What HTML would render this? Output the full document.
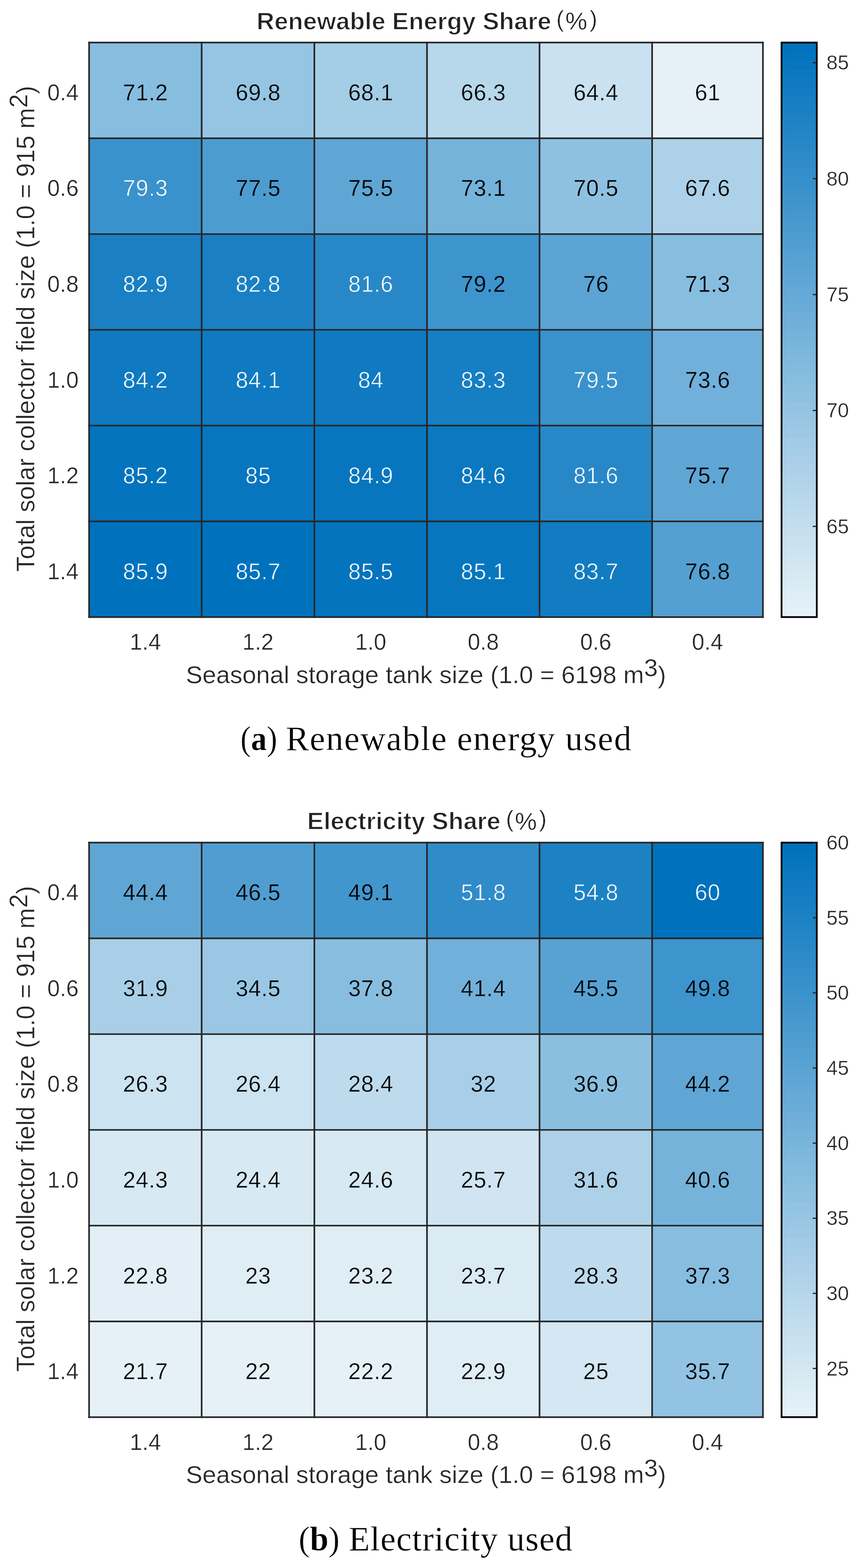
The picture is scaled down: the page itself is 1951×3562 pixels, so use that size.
<!DOCTYPE html>
<html><head><meta charset="utf-8"><title>Heatmaps</title>
<style>
html,body{margin:0;padding:0;background:#fff;}
body{width:1951px;height:3562px;overflow:hidden;}
svg{display:block;}
text{font-family:"Liberation Sans",Arial,Helvetica,sans-serif;}
text.cap{font-family:"Liberation Serif","Times New Roman",serif;}
text.e{stroke:#fff;stroke-width:0.5px;}
text.eb{stroke:#fff;stroke-width:1.4px;}
</style></head><body>
<svg width="1951" height="3562" viewBox="0 0 1951 3562">
<rect x="0" y="0" width="1951" height="3562" fill="#fff"/>
<rect x="202.30" y="96.70" width="255.70" height="217.52" fill="#87bddf"/>
<rect x="458.00" y="96.70" width="256.00" height="217.52" fill="#96c5e3"/>
<rect x="714.00" y="96.70" width="255.80" height="217.52" fill="#a4cde6"/>
<rect x="969.80" y="96.70" width="255.60" height="217.52" fill="#b7d7eb"/>
<rect x="1225.40" y="96.70" width="255.70" height="217.52" fill="#c9e1f0"/>
<rect x="1481.10" y="96.70" width="251.70" height="217.52" fill="#e6f1f7"/>
<rect x="202.30" y="314.22" width="255.70" height="217.52" fill="#3a92cc"/>
<rect x="458.00" y="314.22" width="256.00" height="217.52" fill="#4d9cd0"/>
<rect x="714.00" y="314.22" width="255.80" height="217.52" fill="#5fa6d5"/>
<rect x="969.80" y="314.22" width="255.60" height="217.52" fill="#75b3da"/>
<rect x="1225.40" y="314.22" width="255.70" height="217.52" fill="#8ec1e1"/>
<rect x="1481.10" y="314.22" width="251.70" height="217.52" fill="#acd1e8"/>
<rect x="202.30" y="531.73" width="255.70" height="217.52" fill="#1a80c3"/>
<rect x="458.00" y="531.73" width="256.00" height="217.52" fill="#1a80c3"/>
<rect x="714.00" y="531.73" width="255.80" height="217.52" fill="#2888c7"/>
<rect x="969.80" y="531.73" width="255.60" height="217.52" fill="#3e94cd"/>
<rect x="1225.40" y="531.73" width="255.70" height="217.52" fill="#5ba4d4"/>
<rect x="1481.10" y="531.73" width="251.70" height="217.52" fill="#87bddf"/>
<rect x="202.30" y="749.25" width="255.70" height="217.52" fill="#0f7ac1"/>
<rect x="458.00" y="749.25" width="256.00" height="217.52" fill="#0f7ac1"/>
<rect x="714.00" y="749.25" width="255.80" height="217.52" fill="#0f7ac1"/>
<rect x="969.80" y="749.25" width="255.60" height="217.52" fill="#167ec3"/>
<rect x="1225.40" y="749.25" width="255.70" height="217.52" fill="#3a92cc"/>
<rect x="1481.10" y="749.25" width="251.70" height="217.52" fill="#71b0da"/>
<rect x="202.30" y="966.77" width="255.70" height="217.52" fill="#0474be"/>
<rect x="458.00" y="966.77" width="256.00" height="217.52" fill="#0776bf"/>
<rect x="714.00" y="966.77" width="255.80" height="217.52" fill="#0776bf"/>
<rect x="969.80" y="966.77" width="255.60" height="217.52" fill="#0b78c0"/>
<rect x="1225.40" y="966.77" width="255.70" height="217.52" fill="#2888c7"/>
<rect x="1481.10" y="966.77" width="251.70" height="217.52" fill="#5fa6d5"/>
<rect x="202.30" y="1184.28" width="255.70" height="217.52" fill="#0072bd"/>
<rect x="458.00" y="1184.28" width="256.00" height="217.52" fill="#0072bd"/>
<rect x="714.00" y="1184.28" width="255.80" height="217.52" fill="#0474be"/>
<rect x="969.80" y="1184.28" width="255.60" height="217.52" fill="#0776bf"/>
<rect x="1225.40" y="1184.28" width="255.70" height="217.52" fill="#127cc2"/>
<rect x="1481.10" y="1184.28" width="251.70" height="217.52" fill="#54a0d2"/>
<line x1="202.3" y1="94.85" x2="202.3" y2="1403.65" stroke="#262626" stroke-width="3.7"/>
<line x1="458.0" y1="94.85" x2="458.0" y2="1403.65" stroke="#262626" stroke-width="3.7"/>
<line x1="714.0" y1="94.85" x2="714.0" y2="1403.65" stroke="#262626" stroke-width="3.7"/>
<line x1="969.8" y1="94.85" x2="969.8" y2="1403.65" stroke="#262626" stroke-width="3.7"/>
<line x1="1225.4" y1="94.85" x2="1225.4" y2="1403.65" stroke="#262626" stroke-width="3.7"/>
<line x1="1481.1" y1="94.85" x2="1481.1" y2="1403.65" stroke="#262626" stroke-width="3.7"/>
<line x1="1732.8" y1="94.85" x2="1732.8" y2="1403.65" stroke="#262626" stroke-width="3.7"/>
<line x1="200.45" y1="96.70" x2="1734.65" y2="96.70" stroke="#262626" stroke-width="3.7"/>
<line x1="200.45" y1="314.22" x2="1734.65" y2="314.22" stroke="#262626" stroke-width="3.7"/>
<line x1="200.45" y1="531.73" x2="1734.65" y2="531.73" stroke="#262626" stroke-width="3.7"/>
<line x1="200.45" y1="749.25" x2="1734.65" y2="749.25" stroke="#262626" stroke-width="3.7"/>
<line x1="200.45" y1="966.77" x2="1734.65" y2="966.77" stroke="#262626" stroke-width="3.7"/>
<line x1="200.45" y1="1184.28" x2="1734.65" y2="1184.28" stroke="#262626" stroke-width="3.7"/>
<line x1="200.45" y1="1401.80" x2="1734.65" y2="1401.80" stroke="#262626" stroke-width="3.7"/>
<text x="330.55" y="227.96" font-size="51" text-anchor="middle" letter-spacing="0.8" fill="#000000" stroke="#87bddf" stroke-width="0.5">71.2</text>
<text x="586.40" y="227.96" font-size="51" text-anchor="middle" letter-spacing="0.8" fill="#000000" stroke="#96c5e3" stroke-width="0.5">69.8</text>
<text x="842.30" y="227.96" font-size="51" text-anchor="middle" letter-spacing="0.8" fill="#000000" stroke="#a4cde6" stroke-width="0.5">68.1</text>
<text x="1098.00" y="227.96" font-size="51" text-anchor="middle" letter-spacing="0.8" fill="#000000" stroke="#b7d7eb" stroke-width="0.5">66.3</text>
<text x="1353.65" y="227.96" font-size="51" text-anchor="middle" letter-spacing="0.8" fill="#000000" stroke="#c9e1f0" stroke-width="0.5">64.4</text>
<text x="1607.35" y="227.96" font-size="51" text-anchor="middle" letter-spacing="0.8" fill="#000000" stroke="#e6f1f7" stroke-width="0.5">61</text>
<text x="330.55" y="445.48" font-size="51" text-anchor="middle" letter-spacing="0.8" fill="#ffffff" stroke="#3a92cc" stroke-width="0.9">79.3</text>
<text x="586.40" y="445.48" font-size="51" text-anchor="middle" letter-spacing="0.8" fill="#000000" stroke="#4d9cd0" stroke-width="0.5">77.5</text>
<text x="842.30" y="445.48" font-size="51" text-anchor="middle" letter-spacing="0.8" fill="#000000" stroke="#5fa6d5" stroke-width="0.5">75.5</text>
<text x="1098.00" y="445.48" font-size="51" text-anchor="middle" letter-spacing="0.8" fill="#000000" stroke="#75b3da" stroke-width="0.5">73.1</text>
<text x="1353.65" y="445.48" font-size="51" text-anchor="middle" letter-spacing="0.8" fill="#000000" stroke="#8ec1e1" stroke-width="0.5">70.5</text>
<text x="1607.35" y="445.48" font-size="51" text-anchor="middle" letter-spacing="0.8" fill="#000000" stroke="#acd1e8" stroke-width="0.5">67.6</text>
<text x="330.55" y="662.99" font-size="51" text-anchor="middle" letter-spacing="0.8" fill="#ffffff" stroke="#1a80c3" stroke-width="0.9">82.9</text>
<text x="586.40" y="662.99" font-size="51" text-anchor="middle" letter-spacing="0.8" fill="#ffffff" stroke="#1a80c3" stroke-width="0.9">82.8</text>
<text x="842.30" y="662.99" font-size="51" text-anchor="middle" letter-spacing="0.8" fill="#ffffff" stroke="#2888c7" stroke-width="0.9">81.6</text>
<text x="1098.00" y="662.99" font-size="51" text-anchor="middle" letter-spacing="0.8" fill="#000000" stroke="#3e94cd" stroke-width="0.5">79.2</text>
<text x="1353.65" y="662.99" font-size="51" text-anchor="middle" letter-spacing="0.8" fill="#000000" stroke="#5ba4d4" stroke-width="0.5">76</text>
<text x="1607.35" y="662.99" font-size="51" text-anchor="middle" letter-spacing="0.8" fill="#000000" stroke="#87bddf" stroke-width="0.5">71.3</text>
<text x="330.55" y="880.51" font-size="51" text-anchor="middle" letter-spacing="0.8" fill="#ffffff" stroke="#0f7ac1" stroke-width="0.9">84.2</text>
<text x="586.40" y="880.51" font-size="51" text-anchor="middle" letter-spacing="0.8" fill="#ffffff" stroke="#0f7ac1" stroke-width="0.9">84.1</text>
<text x="842.30" y="880.51" font-size="51" text-anchor="middle" letter-spacing="0.8" fill="#ffffff" stroke="#0f7ac1" stroke-width="0.9">84</text>
<text x="1098.00" y="880.51" font-size="51" text-anchor="middle" letter-spacing="0.8" fill="#ffffff" stroke="#167ec3" stroke-width="0.9">83.3</text>
<text x="1353.65" y="880.51" font-size="51" text-anchor="middle" letter-spacing="0.8" fill="#ffffff" stroke="#3a92cc" stroke-width="0.9">79.5</text>
<text x="1607.35" y="880.51" font-size="51" text-anchor="middle" letter-spacing="0.8" fill="#000000" stroke="#71b0da" stroke-width="0.5">73.6</text>
<text x="330.55" y="1098.03" font-size="51" text-anchor="middle" letter-spacing="0.8" fill="#ffffff" stroke="#0474be" stroke-width="0.9">85.2</text>
<text x="586.40" y="1098.03" font-size="51" text-anchor="middle" letter-spacing="0.8" fill="#ffffff" stroke="#0776bf" stroke-width="0.9">85</text>
<text x="842.30" y="1098.03" font-size="51" text-anchor="middle" letter-spacing="0.8" fill="#ffffff" stroke="#0776bf" stroke-width="0.9">84.9</text>
<text x="1098.00" y="1098.03" font-size="51" text-anchor="middle" letter-spacing="0.8" fill="#ffffff" stroke="#0b78c0" stroke-width="0.9">84.6</text>
<text x="1353.65" y="1098.03" font-size="51" text-anchor="middle" letter-spacing="0.8" fill="#ffffff" stroke="#2888c7" stroke-width="0.9">81.6</text>
<text x="1607.35" y="1098.03" font-size="51" text-anchor="middle" letter-spacing="0.8" fill="#000000" stroke="#5fa6d5" stroke-width="0.5">75.7</text>
<text x="330.55" y="1315.54" font-size="51" text-anchor="middle" letter-spacing="0.8" fill="#ffffff" stroke="#0072bd" stroke-width="0.9">85.9</text>
<text x="586.40" y="1315.54" font-size="51" text-anchor="middle" letter-spacing="0.8" fill="#ffffff" stroke="#0072bd" stroke-width="0.9">85.7</text>
<text x="842.30" y="1315.54" font-size="51" text-anchor="middle" letter-spacing="0.8" fill="#ffffff" stroke="#0474be" stroke-width="0.9">85.5</text>
<text x="1098.00" y="1315.54" font-size="51" text-anchor="middle" letter-spacing="0.8" fill="#ffffff" stroke="#0776bf" stroke-width="0.9">85.1</text>
<text x="1353.65" y="1315.54" font-size="51" text-anchor="middle" letter-spacing="0.8" fill="#ffffff" stroke="#127cc2" stroke-width="0.9">83.7</text>
<text x="1607.35" y="1315.54" font-size="51" text-anchor="middle" letter-spacing="0.8" fill="#000000" stroke="#54a0d2" stroke-width="0.5">76.8</text>
<text x="178.5" y="227.96" font-size="51" text-anchor="end" class="e" fill="#262626">0.4</text>
<text x="178.5" y="445.48" font-size="51" text-anchor="end" class="e" fill="#262626">0.6</text>
<text x="178.5" y="662.99" font-size="51" text-anchor="end" class="e" fill="#262626">0.8</text>
<text x="178.5" y="880.51" font-size="51" text-anchor="end" class="e" fill="#262626">1.0</text>
<text x="178.5" y="1098.03" font-size="51" text-anchor="end" class="e" fill="#262626">1.2</text>
<text x="178.5" y="1315.54" font-size="51" text-anchor="end" class="e" fill="#262626">1.4</text>
<text x="330.15" y="1476.00" font-size="51" text-anchor="middle" class="e" fill="#262626">1.4</text>
<text x="586.00" y="1476.00" font-size="51" text-anchor="middle" class="e" fill="#262626">1.2</text>
<text x="841.90" y="1476.00" font-size="51" text-anchor="middle" class="e" fill="#262626">1.0</text>
<text x="1097.60" y="1476.00" font-size="51" text-anchor="middle" class="e" fill="#262626">0.8</text>
<text x="1353.25" y="1476.00" font-size="51" text-anchor="middle" class="e" fill="#262626">0.6</text>
<text x="1606.95" y="1476.00" font-size="51" text-anchor="middle" class="e" fill="#262626">0.4</text>
<text x="967.5" y="1551.50" font-size="56.3" text-anchor="middle" class="e" fill="#262626">Seasonal storage tank size (1.0 = 6198 m<tspan dy="-15.5">3</tspan><tspan dy="15.5">)</tspan></text>
<text transform="translate(77.5,746.75) rotate(-90)" font-size="56.5" text-anchor="middle" class="e" fill="#262626">Total solar collector field size (1.0 = 915 m<tspan dy="-15.5">2</tspan><tspan dy="15.5">)</tspan></text>
<text x="582.75" y="66.50" font-size="56" font-weight="bold" class="eb" fill="#222222">Renewable Energy Share</text>
<text x="1263.6" y="60.50" font-size="51" class="e" fill="#222222">(</text>
<text x="1283.9" y="67.00" font-size="56" class="e" fill="#222222">%</text>
<text x="1339.5" y="60.50" font-size="51" class="e" fill="#222222">)</text>
<rect x="1775.1" y="1381.41" width="80.00" height="20.99" fill="#e6f1f7"/>
<rect x="1775.1" y="1361.02" width="80.00" height="20.99" fill="#e2eff6"/>
<rect x="1775.1" y="1340.62" width="80.00" height="20.99" fill="#dfedf5"/>
<rect x="1775.1" y="1320.23" width="80.00" height="20.99" fill="#dbebf4"/>
<rect x="1775.1" y="1299.84" width="80.00" height="20.99" fill="#d7e9f3"/>
<rect x="1775.1" y="1279.45" width="80.00" height="20.99" fill="#d4e7f2"/>
<rect x="1775.1" y="1259.05" width="80.00" height="20.99" fill="#d0e5f1"/>
<rect x="1775.1" y="1238.66" width="80.00" height="20.99" fill="#cce3f1"/>
<rect x="1775.1" y="1218.27" width="80.00" height="20.99" fill="#c9e1f0"/>
<rect x="1775.1" y="1197.88" width="80.00" height="20.99" fill="#c5dfef"/>
<rect x="1775.1" y="1177.49" width="80.00" height="20.99" fill="#c1ddee"/>
<rect x="1775.1" y="1157.09" width="80.00" height="20.99" fill="#bedbed"/>
<rect x="1775.1" y="1136.70" width="80.00" height="20.99" fill="#bad9ec"/>
<rect x="1775.1" y="1116.31" width="80.00" height="20.99" fill="#b7d7eb"/>
<rect x="1775.1" y="1095.92" width="80.00" height="20.99" fill="#b3d5ea"/>
<rect x="1775.1" y="1075.53" width="80.00" height="20.99" fill="#afd3e9"/>
<rect x="1775.1" y="1055.13" width="80.00" height="20.99" fill="#acd1e8"/>
<rect x="1775.1" y="1034.74" width="80.00" height="20.99" fill="#a8cfe7"/>
<rect x="1775.1" y="1014.35" width="80.00" height="20.99" fill="#a4cde6"/>
<rect x="1775.1" y="993.96" width="80.00" height="20.99" fill="#a1cbe6"/>
<rect x="1775.1" y="973.56" width="80.00" height="20.99" fill="#9dc9e5"/>
<rect x="1775.1" y="953.17" width="80.00" height="20.99" fill="#99c7e4"/>
<rect x="1775.1" y="932.78" width="80.00" height="20.99" fill="#96c5e3"/>
<rect x="1775.1" y="912.39" width="80.00" height="20.99" fill="#92c3e2"/>
<rect x="1775.1" y="892.00" width="80.00" height="20.99" fill="#8ec1e1"/>
<rect x="1775.1" y="871.60" width="80.00" height="20.99" fill="#8bbfe0"/>
<rect x="1775.1" y="851.21" width="80.00" height="20.99" fill="#87bddf"/>
<rect x="1775.1" y="830.82" width="80.00" height="20.99" fill="#83bbde"/>
<rect x="1775.1" y="810.43" width="80.00" height="20.99" fill="#80b9dd"/>
<rect x="1775.1" y="790.03" width="80.00" height="20.99" fill="#7cb7dc"/>
<rect x="1775.1" y="769.64" width="80.00" height="20.99" fill="#78b5db"/>
<rect x="1775.1" y="749.25" width="80.00" height="20.99" fill="#75b3da"/>
<rect x="1775.1" y="728.86" width="80.00" height="20.99" fill="#71b0da"/>
<rect x="1775.1" y="708.47" width="80.00" height="20.99" fill="#6eaed9"/>
<rect x="1775.1" y="688.07" width="80.00" height="20.99" fill="#6aacd8"/>
<rect x="1775.1" y="667.68" width="80.00" height="20.99" fill="#66aad7"/>
<rect x="1775.1" y="647.29" width="80.00" height="20.99" fill="#63a8d6"/>
<rect x="1775.1" y="626.90" width="80.00" height="20.99" fill="#5fa6d5"/>
<rect x="1775.1" y="606.50" width="80.00" height="20.99" fill="#5ba4d4"/>
<rect x="1775.1" y="586.11" width="80.00" height="20.99" fill="#58a2d3"/>
<rect x="1775.1" y="565.72" width="80.00" height="20.99" fill="#54a0d2"/>
<rect x="1775.1" y="545.33" width="80.00" height="20.99" fill="#509ed1"/>
<rect x="1775.1" y="524.94" width="80.00" height="20.99" fill="#4d9cd0"/>
<rect x="1775.1" y="504.54" width="80.00" height="20.99" fill="#499acf"/>
<rect x="1775.1" y="484.15" width="80.00" height="20.99" fill="#4598ce"/>
<rect x="1775.1" y="463.76" width="80.00" height="20.99" fill="#4296ce"/>
<rect x="1775.1" y="443.37" width="80.00" height="20.99" fill="#3e94cd"/>
<rect x="1775.1" y="422.98" width="80.00" height="20.99" fill="#3a92cc"/>
<rect x="1775.1" y="402.58" width="80.00" height="20.99" fill="#3790cb"/>
<rect x="1775.1" y="382.19" width="80.00" height="20.99" fill="#338eca"/>
<rect x="1775.1" y="361.80" width="80.00" height="20.99" fill="#2f8cc9"/>
<rect x="1775.1" y="341.41" width="80.00" height="20.99" fill="#2c8ac8"/>
<rect x="1775.1" y="321.01" width="80.00" height="20.99" fill="#2888c7"/>
<rect x="1775.1" y="300.62" width="80.00" height="20.99" fill="#2586c6"/>
<rect x="1775.1" y="280.23" width="80.00" height="20.99" fill="#2184c5"/>
<rect x="1775.1" y="259.84" width="80.00" height="20.99" fill="#1d82c4"/>
<rect x="1775.1" y="239.45" width="80.00" height="20.99" fill="#1a80c3"/>
<rect x="1775.1" y="219.05" width="80.00" height="20.99" fill="#167ec3"/>
<rect x="1775.1" y="198.66" width="80.00" height="20.99" fill="#127cc2"/>
<rect x="1775.1" y="178.27" width="80.00" height="20.99" fill="#0f7ac1"/>
<rect x="1775.1" y="157.88" width="80.00" height="20.99" fill="#0b78c0"/>
<rect x="1775.1" y="137.48" width="80.00" height="20.99" fill="#0776bf"/>
<rect x="1775.1" y="117.09" width="80.00" height="20.99" fill="#0474be"/>
<rect x="1775.1" y="96.70" width="80.00" height="20.99" fill="#0072bd"/>
<rect x="1775.1" y="96.70" width="80.00" height="1305.10" fill="none" stroke="#000" stroke-width="4"/>
<line x1="1846" y1="142.60" x2="1853.5" y2="142.60" stroke="#262626" stroke-width="2.7"/>
<text x="1877" y="158.42" font-size="46" class="e" fill="#262626">85</text>
<line x1="1846" y1="405.90" x2="1853.5" y2="405.90" stroke="#262626" stroke-width="2.7"/>
<text x="1877" y="421.72" font-size="46" class="e" fill="#262626">80</text>
<line x1="1846" y1="669.20" x2="1853.5" y2="669.20" stroke="#262626" stroke-width="2.7"/>
<text x="1877" y="685.02" font-size="46" class="e" fill="#262626">75</text>
<line x1="1846" y1="932.50" x2="1853.5" y2="932.50" stroke="#262626" stroke-width="2.7"/>
<text x="1877" y="948.32" font-size="46" class="e" fill="#262626">70</text>
<line x1="1846" y1="1195.80" x2="1853.5" y2="1195.80" stroke="#262626" stroke-width="2.7"/>
<text x="1877" y="1211.62" font-size="46" class="e" fill="#262626">65</text>
<text x="546.1" y="1704.4" class="cap e" font-size="78.5" fill="#000" textLength="83.6" lengthAdjust="spacingAndGlyphs">(<tspan font-weight="bold">a</tspan>)</text>
<text x="649.2" y="1704.4" class="cap e" font-size="78.5" fill="#000" textLength="784.8" lengthAdjust="spacing">Renewable energy used</text>
<rect x="202.30" y="1914.20" width="255.70" height="217.52" fill="#5fa6d5"/>
<rect x="458.00" y="1914.20" width="256.00" height="217.52" fill="#509ed1"/>
<rect x="714.00" y="1914.20" width="255.80" height="217.52" fill="#4296ce"/>
<rect x="969.80" y="1914.20" width="255.60" height="217.52" fill="#2f8cc9"/>
<rect x="1225.40" y="1914.20" width="255.70" height="217.52" fill="#1d82c4"/>
<rect x="1481.10" y="1914.20" width="251.70" height="217.52" fill="#0072bd"/>
<rect x="202.30" y="2131.72" width="255.70" height="217.52" fill="#a8cfe7"/>
<rect x="458.00" y="2131.72" width="256.00" height="217.52" fill="#99c7e4"/>
<rect x="714.00" y="2131.72" width="255.80" height="217.52" fill="#87bddf"/>
<rect x="969.80" y="2131.72" width="255.60" height="217.52" fill="#71b0da"/>
<rect x="1225.40" y="2131.72" width="255.70" height="217.52" fill="#58a2d3"/>
<rect x="1481.10" y="2131.72" width="251.70" height="217.52" fill="#3e94cd"/>
<rect x="202.30" y="2349.23" width="255.70" height="217.52" fill="#cce3f1"/>
<rect x="458.00" y="2349.23" width="256.00" height="217.52" fill="#cce3f1"/>
<rect x="714.00" y="2349.23" width="255.80" height="217.52" fill="#bedbed"/>
<rect x="969.80" y="2349.23" width="255.60" height="217.52" fill="#a8cfe7"/>
<rect x="1225.40" y="2349.23" width="255.70" height="217.52" fill="#8bbfe0"/>
<rect x="1481.10" y="2349.23" width="251.70" height="217.52" fill="#5fa6d5"/>
<rect x="202.30" y="2566.75" width="255.70" height="217.52" fill="#d7e9f3"/>
<rect x="458.00" y="2566.75" width="256.00" height="217.52" fill="#d7e9f3"/>
<rect x="714.00" y="2566.75" width="255.80" height="217.52" fill="#d7e9f3"/>
<rect x="969.80" y="2566.75" width="255.60" height="217.52" fill="#d0e5f1"/>
<rect x="1225.40" y="2566.75" width="255.70" height="217.52" fill="#acd1e8"/>
<rect x="1481.10" y="2566.75" width="251.70" height="217.52" fill="#75b3da"/>
<rect x="202.30" y="2784.27" width="255.70" height="217.52" fill="#e2eff6"/>
<rect x="458.00" y="2784.27" width="256.00" height="217.52" fill="#dfedf5"/>
<rect x="714.00" y="2784.27" width="255.80" height="217.52" fill="#dfedf5"/>
<rect x="969.80" y="2784.27" width="255.60" height="217.52" fill="#dbebf4"/>
<rect x="1225.40" y="2784.27" width="255.70" height="217.52" fill="#bedbed"/>
<rect x="1481.10" y="2784.27" width="251.70" height="217.52" fill="#87bddf"/>
<rect x="202.30" y="3001.78" width="255.70" height="217.52" fill="#e6f1f7"/>
<rect x="458.00" y="3001.78" width="256.00" height="217.52" fill="#e6f1f7"/>
<rect x="714.00" y="3001.78" width="255.80" height="217.52" fill="#e6f1f7"/>
<rect x="969.80" y="3001.78" width="255.60" height="217.52" fill="#dfedf5"/>
<rect x="1225.40" y="3001.78" width="255.70" height="217.52" fill="#d4e7f2"/>
<rect x="1481.10" y="3001.78" width="251.70" height="217.52" fill="#92c3e2"/>
<line x1="202.3" y1="1912.35" x2="202.3" y2="3221.15" stroke="#262626" stroke-width="3.7"/>
<line x1="458.0" y1="1912.35" x2="458.0" y2="3221.15" stroke="#262626" stroke-width="3.7"/>
<line x1="714.0" y1="1912.35" x2="714.0" y2="3221.15" stroke="#262626" stroke-width="3.7"/>
<line x1="969.8" y1="1912.35" x2="969.8" y2="3221.15" stroke="#262626" stroke-width="3.7"/>
<line x1="1225.4" y1="1912.35" x2="1225.4" y2="3221.15" stroke="#262626" stroke-width="3.7"/>
<line x1="1481.1" y1="1912.35" x2="1481.1" y2="3221.15" stroke="#262626" stroke-width="3.7"/>
<line x1="1732.8" y1="1912.35" x2="1732.8" y2="3221.15" stroke="#262626" stroke-width="3.7"/>
<line x1="200.45" y1="1914.20" x2="1734.65" y2="1914.20" stroke="#262626" stroke-width="3.7"/>
<line x1="200.45" y1="2131.72" x2="1734.65" y2="2131.72" stroke="#262626" stroke-width="3.7"/>
<line x1="200.45" y1="2349.23" x2="1734.65" y2="2349.23" stroke="#262626" stroke-width="3.7"/>
<line x1="200.45" y1="2566.75" x2="1734.65" y2="2566.75" stroke="#262626" stroke-width="3.7"/>
<line x1="200.45" y1="2784.27" x2="1734.65" y2="2784.27" stroke="#262626" stroke-width="3.7"/>
<line x1="200.45" y1="3001.78" x2="1734.65" y2="3001.78" stroke="#262626" stroke-width="3.7"/>
<line x1="200.45" y1="3219.30" x2="1734.65" y2="3219.30" stroke="#262626" stroke-width="3.7"/>
<text x="330.55" y="2045.46" font-size="51" text-anchor="middle" letter-spacing="0.8" fill="#000000" stroke="#5fa6d5" stroke-width="0.5">44.4</text>
<text x="586.40" y="2045.46" font-size="51" text-anchor="middle" letter-spacing="0.8" fill="#000000" stroke="#509ed1" stroke-width="0.5">46.5</text>
<text x="842.30" y="2045.46" font-size="51" text-anchor="middle" letter-spacing="0.8" fill="#000000" stroke="#4296ce" stroke-width="0.5">49.1</text>
<text x="1098.00" y="2045.46" font-size="51" text-anchor="middle" letter-spacing="0.8" fill="#ffffff" stroke="#2f8cc9" stroke-width="0.9">51.8</text>
<text x="1353.65" y="2045.46" font-size="51" text-anchor="middle" letter-spacing="0.8" fill="#ffffff" stroke="#1d82c4" stroke-width="0.9">54.8</text>
<text x="1607.35" y="2045.46" font-size="51" text-anchor="middle" letter-spacing="0.8" fill="#ffffff" stroke="#0072bd" stroke-width="0.9">60</text>
<text x="330.55" y="2262.98" font-size="51" text-anchor="middle" letter-spacing="0.8" fill="#000000" stroke="#a8cfe7" stroke-width="0.5">31.9</text>
<text x="586.40" y="2262.98" font-size="51" text-anchor="middle" letter-spacing="0.8" fill="#000000" stroke="#99c7e4" stroke-width="0.5">34.5</text>
<text x="842.30" y="2262.98" font-size="51" text-anchor="middle" letter-spacing="0.8" fill="#000000" stroke="#87bddf" stroke-width="0.5">37.8</text>
<text x="1098.00" y="2262.98" font-size="51" text-anchor="middle" letter-spacing="0.8" fill="#000000" stroke="#71b0da" stroke-width="0.5">41.4</text>
<text x="1353.65" y="2262.98" font-size="51" text-anchor="middle" letter-spacing="0.8" fill="#000000" stroke="#58a2d3" stroke-width="0.5">45.5</text>
<text x="1607.35" y="2262.98" font-size="51" text-anchor="middle" letter-spacing="0.8" fill="#000000" stroke="#3e94cd" stroke-width="0.5">49.8</text>
<text x="330.55" y="2480.49" font-size="51" text-anchor="middle" letter-spacing="0.8" fill="#000000" stroke="#cce3f1" stroke-width="0.5">26.3</text>
<text x="586.40" y="2480.49" font-size="51" text-anchor="middle" letter-spacing="0.8" fill="#000000" stroke="#cce3f1" stroke-width="0.5">26.4</text>
<text x="842.30" y="2480.49" font-size="51" text-anchor="middle" letter-spacing="0.8" fill="#000000" stroke="#bedbed" stroke-width="0.5">28.4</text>
<text x="1098.00" y="2480.49" font-size="51" text-anchor="middle" letter-spacing="0.8" fill="#000000" stroke="#a8cfe7" stroke-width="0.5">32</text>
<text x="1353.65" y="2480.49" font-size="51" text-anchor="middle" letter-spacing="0.8" fill="#000000" stroke="#8bbfe0" stroke-width="0.5">36.9</text>
<text x="1607.35" y="2480.49" font-size="51" text-anchor="middle" letter-spacing="0.8" fill="#000000" stroke="#5fa6d5" stroke-width="0.5">44.2</text>
<text x="330.55" y="2698.01" font-size="51" text-anchor="middle" letter-spacing="0.8" fill="#000000" stroke="#d7e9f3" stroke-width="0.5">24.3</text>
<text x="586.40" y="2698.01" font-size="51" text-anchor="middle" letter-spacing="0.8" fill="#000000" stroke="#d7e9f3" stroke-width="0.5">24.4</text>
<text x="842.30" y="2698.01" font-size="51" text-anchor="middle" letter-spacing="0.8" fill="#000000" stroke="#d7e9f3" stroke-width="0.5">24.6</text>
<text x="1098.00" y="2698.01" font-size="51" text-anchor="middle" letter-spacing="0.8" fill="#000000" stroke="#d0e5f1" stroke-width="0.5">25.7</text>
<text x="1353.65" y="2698.01" font-size="51" text-anchor="middle" letter-spacing="0.8" fill="#000000" stroke="#acd1e8" stroke-width="0.5">31.6</text>
<text x="1607.35" y="2698.01" font-size="51" text-anchor="middle" letter-spacing="0.8" fill="#000000" stroke="#75b3da" stroke-width="0.5">40.6</text>
<text x="330.55" y="2915.52" font-size="51" text-anchor="middle" letter-spacing="0.8" fill="#000000" stroke="#e2eff6" stroke-width="0.5">22.8</text>
<text x="586.40" y="2915.52" font-size="51" text-anchor="middle" letter-spacing="0.8" fill="#000000" stroke="#dfedf5" stroke-width="0.5">23</text>
<text x="842.30" y="2915.52" font-size="51" text-anchor="middle" letter-spacing="0.8" fill="#000000" stroke="#dfedf5" stroke-width="0.5">23.2</text>
<text x="1098.00" y="2915.52" font-size="51" text-anchor="middle" letter-spacing="0.8" fill="#000000" stroke="#dbebf4" stroke-width="0.5">23.7</text>
<text x="1353.65" y="2915.52" font-size="51" text-anchor="middle" letter-spacing="0.8" fill="#000000" stroke="#bedbed" stroke-width="0.5">28.3</text>
<text x="1607.35" y="2915.52" font-size="51" text-anchor="middle" letter-spacing="0.8" fill="#000000" stroke="#87bddf" stroke-width="0.5">37.3</text>
<text x="330.55" y="3133.04" font-size="51" text-anchor="middle" letter-spacing="0.8" fill="#000000" stroke="#e6f1f7" stroke-width="0.5">21.7</text>
<text x="586.40" y="3133.04" font-size="51" text-anchor="middle" letter-spacing="0.8" fill="#000000" stroke="#e6f1f7" stroke-width="0.5">22</text>
<text x="842.30" y="3133.04" font-size="51" text-anchor="middle" letter-spacing="0.8" fill="#000000" stroke="#e6f1f7" stroke-width="0.5">22.2</text>
<text x="1098.00" y="3133.04" font-size="51" text-anchor="middle" letter-spacing="0.8" fill="#000000" stroke="#dfedf5" stroke-width="0.5">22.9</text>
<text x="1353.65" y="3133.04" font-size="51" text-anchor="middle" letter-spacing="0.8" fill="#000000" stroke="#d4e7f2" stroke-width="0.5">25</text>
<text x="1607.35" y="3133.04" font-size="51" text-anchor="middle" letter-spacing="0.8" fill="#000000" stroke="#92c3e2" stroke-width="0.5">35.7</text>
<text x="178.5" y="2045.46" font-size="51" text-anchor="end" class="e" fill="#262626">0.4</text>
<text x="178.5" y="2262.98" font-size="51" text-anchor="end" class="e" fill="#262626">0.6</text>
<text x="178.5" y="2480.49" font-size="51" text-anchor="end" class="e" fill="#262626">0.8</text>
<text x="178.5" y="2698.01" font-size="51" text-anchor="end" class="e" fill="#262626">1.0</text>
<text x="178.5" y="2915.52" font-size="51" text-anchor="end" class="e" fill="#262626">1.2</text>
<text x="178.5" y="3133.04" font-size="51" text-anchor="end" class="e" fill="#262626">1.4</text>
<text x="330.15" y="3293.50" font-size="51" text-anchor="middle" class="e" fill="#262626">1.4</text>
<text x="586.00" y="3293.50" font-size="51" text-anchor="middle" class="e" fill="#262626">1.2</text>
<text x="841.90" y="3293.50" font-size="51" text-anchor="middle" class="e" fill="#262626">1.0</text>
<text x="1097.60" y="3293.50" font-size="51" text-anchor="middle" class="e" fill="#262626">0.8</text>
<text x="1353.25" y="3293.50" font-size="51" text-anchor="middle" class="e" fill="#262626">0.6</text>
<text x="1606.95" y="3293.50" font-size="51" text-anchor="middle" class="e" fill="#262626">0.4</text>
<text x="967.5" y="3369.00" font-size="56.3" text-anchor="middle" class="e" fill="#262626">Seasonal storage tank size (1.0 = 6198 m<tspan dy="-15.5">3</tspan><tspan dy="15.5">)</tspan></text>
<text transform="translate(77.5,2564.25) rotate(-90)" font-size="56.5" text-anchor="middle" class="e" fill="#262626">Total solar collector field size (1.0 = 915 m<tspan dy="-15.5">2</tspan><tspan dy="15.5">)</tspan></text>
<text x="697.85" y="1884.00" font-size="56" font-weight="bold" class="eb" fill="#222222">Electricity Share</text>
<text x="1149.2" y="1878.00" font-size="51" class="e" fill="#222222">(</text>
<text x="1169.6" y="1884.50" font-size="56" class="e" fill="#222222">%</text>
<text x="1224.4" y="1878.00" font-size="51" class="e" fill="#222222">)</text>
<rect x="1775.1" y="3198.91" width="80.00" height="20.99" fill="#e6f1f7"/>
<rect x="1775.1" y="3178.52" width="80.00" height="20.99" fill="#e2eff6"/>
<rect x="1775.1" y="3158.12" width="80.00" height="20.99" fill="#dfedf5"/>
<rect x="1775.1" y="3137.73" width="80.00" height="20.99" fill="#dbebf4"/>
<rect x="1775.1" y="3117.34" width="80.00" height="20.99" fill="#d7e9f3"/>
<rect x="1775.1" y="3096.95" width="80.00" height="20.99" fill="#d4e7f2"/>
<rect x="1775.1" y="3076.55" width="80.00" height="20.99" fill="#d0e5f1"/>
<rect x="1775.1" y="3056.16" width="80.00" height="20.99" fill="#cce3f1"/>
<rect x="1775.1" y="3035.77" width="80.00" height="20.99" fill="#c9e1f0"/>
<rect x="1775.1" y="3015.38" width="80.00" height="20.99" fill="#c5dfef"/>
<rect x="1775.1" y="2994.99" width="80.00" height="20.99" fill="#c1ddee"/>
<rect x="1775.1" y="2974.59" width="80.00" height="20.99" fill="#bedbed"/>
<rect x="1775.1" y="2954.20" width="80.00" height="20.99" fill="#bad9ec"/>
<rect x="1775.1" y="2933.81" width="80.00" height="20.99" fill="#b7d7eb"/>
<rect x="1775.1" y="2913.42" width="80.00" height="20.99" fill="#b3d5ea"/>
<rect x="1775.1" y="2893.03" width="80.00" height="20.99" fill="#afd3e9"/>
<rect x="1775.1" y="2872.63" width="80.00" height="20.99" fill="#acd1e8"/>
<rect x="1775.1" y="2852.24" width="80.00" height="20.99" fill="#a8cfe7"/>
<rect x="1775.1" y="2831.85" width="80.00" height="20.99" fill="#a4cde6"/>
<rect x="1775.1" y="2811.46" width="80.00" height="20.99" fill="#a1cbe6"/>
<rect x="1775.1" y="2791.06" width="80.00" height="20.99" fill="#9dc9e5"/>
<rect x="1775.1" y="2770.67" width="80.00" height="20.99" fill="#99c7e4"/>
<rect x="1775.1" y="2750.28" width="80.00" height="20.99" fill="#96c5e3"/>
<rect x="1775.1" y="2729.89" width="80.00" height="20.99" fill="#92c3e2"/>
<rect x="1775.1" y="2709.50" width="80.00" height="20.99" fill="#8ec1e1"/>
<rect x="1775.1" y="2689.10" width="80.00" height="20.99" fill="#8bbfe0"/>
<rect x="1775.1" y="2668.71" width="80.00" height="20.99" fill="#87bddf"/>
<rect x="1775.1" y="2648.32" width="80.00" height="20.99" fill="#83bbde"/>
<rect x="1775.1" y="2627.93" width="80.00" height="20.99" fill="#80b9dd"/>
<rect x="1775.1" y="2607.53" width="80.00" height="20.99" fill="#7cb7dc"/>
<rect x="1775.1" y="2587.14" width="80.00" height="20.99" fill="#78b5db"/>
<rect x="1775.1" y="2566.75" width="80.00" height="20.99" fill="#75b3da"/>
<rect x="1775.1" y="2546.36" width="80.00" height="20.99" fill="#71b0da"/>
<rect x="1775.1" y="2525.97" width="80.00" height="20.99" fill="#6eaed9"/>
<rect x="1775.1" y="2505.57" width="80.00" height="20.99" fill="#6aacd8"/>
<rect x="1775.1" y="2485.18" width="80.00" height="20.99" fill="#66aad7"/>
<rect x="1775.1" y="2464.79" width="80.00" height="20.99" fill="#63a8d6"/>
<rect x="1775.1" y="2444.40" width="80.00" height="20.99" fill="#5fa6d5"/>
<rect x="1775.1" y="2424.00" width="80.00" height="20.99" fill="#5ba4d4"/>
<rect x="1775.1" y="2403.61" width="80.00" height="20.99" fill="#58a2d3"/>
<rect x="1775.1" y="2383.22" width="80.00" height="20.99" fill="#54a0d2"/>
<rect x="1775.1" y="2362.83" width="80.00" height="20.99" fill="#509ed1"/>
<rect x="1775.1" y="2342.44" width="80.00" height="20.99" fill="#4d9cd0"/>
<rect x="1775.1" y="2322.04" width="80.00" height="20.99" fill="#499acf"/>
<rect x="1775.1" y="2301.65" width="80.00" height="20.99" fill="#4598ce"/>
<rect x="1775.1" y="2281.26" width="80.00" height="20.99" fill="#4296ce"/>
<rect x="1775.1" y="2260.87" width="80.00" height="20.99" fill="#3e94cd"/>
<rect x="1775.1" y="2240.48" width="80.00" height="20.99" fill="#3a92cc"/>
<rect x="1775.1" y="2220.08" width="80.00" height="20.99" fill="#3790cb"/>
<rect x="1775.1" y="2199.69" width="80.00" height="20.99" fill="#338eca"/>
<rect x="1775.1" y="2179.30" width="80.00" height="20.99" fill="#2f8cc9"/>
<rect x="1775.1" y="2158.91" width="80.00" height="20.99" fill="#2c8ac8"/>
<rect x="1775.1" y="2138.51" width="80.00" height="20.99" fill="#2888c7"/>
<rect x="1775.1" y="2118.12" width="80.00" height="20.99" fill="#2586c6"/>
<rect x="1775.1" y="2097.73" width="80.00" height="20.99" fill="#2184c5"/>
<rect x="1775.1" y="2077.34" width="80.00" height="20.99" fill="#1d82c4"/>
<rect x="1775.1" y="2056.95" width="80.00" height="20.99" fill="#1a80c3"/>
<rect x="1775.1" y="2036.55" width="80.00" height="20.99" fill="#167ec3"/>
<rect x="1775.1" y="2016.16" width="80.00" height="20.99" fill="#127cc2"/>
<rect x="1775.1" y="1995.77" width="80.00" height="20.99" fill="#0f7ac1"/>
<rect x="1775.1" y="1975.38" width="80.00" height="20.99" fill="#0b78c0"/>
<rect x="1775.1" y="1954.98" width="80.00" height="20.99" fill="#0776bf"/>
<rect x="1775.1" y="1934.59" width="80.00" height="20.99" fill="#0474be"/>
<rect x="1775.1" y="1914.20" width="80.00" height="20.99" fill="#0072bd"/>
<rect x="1775.1" y="1914.20" width="80.00" height="1305.10" fill="none" stroke="#000" stroke-width="4"/>
<line x1="1846" y1="1914.20" x2="1853.5" y2="1914.20" stroke="#262626" stroke-width="2.7"/>
<text x="1877" y="1930.02" font-size="46" class="e" fill="#262626">60</text>
<line x1="1846" y1="2084.85" x2="1853.5" y2="2084.85" stroke="#262626" stroke-width="2.7"/>
<text x="1877" y="2100.67" font-size="46" class="e" fill="#262626">55</text>
<line x1="1846" y1="2255.50" x2="1853.5" y2="2255.50" stroke="#262626" stroke-width="2.7"/>
<text x="1877" y="2271.32" font-size="46" class="e" fill="#262626">50</text>
<line x1="1846" y1="2426.15" x2="1853.5" y2="2426.15" stroke="#262626" stroke-width="2.7"/>
<text x="1877" y="2441.97" font-size="46" class="e" fill="#262626">45</text>
<line x1="1846" y1="2596.80" x2="1853.5" y2="2596.80" stroke="#262626" stroke-width="2.7"/>
<text x="1877" y="2612.62" font-size="46" class="e" fill="#262626">40</text>
<line x1="1846" y1="2767.45" x2="1853.5" y2="2767.45" stroke="#262626" stroke-width="2.7"/>
<text x="1877" y="2783.27" font-size="46" class="e" fill="#262626">35</text>
<line x1="1846" y1="2938.10" x2="1853.5" y2="2938.10" stroke="#262626" stroke-width="2.7"/>
<text x="1877" y="2953.92" font-size="46" class="e" fill="#262626">30</text>
<line x1="1846" y1="3108.75" x2="1853.5" y2="3108.75" stroke="#262626" stroke-width="2.7"/>
<text x="1877" y="3124.57" font-size="46" class="e" fill="#262626">25</text>
<text x="678.3" y="3521.8" class="cap e" font-size="78.5" fill="#000" textLength="93.2" lengthAdjust="spacingAndGlyphs">(<tspan font-weight="bold">b</tspan>)</text>
<text x="791.9" y="3521.8" class="cap e" font-size="78.5" fill="#000" textLength="508.1" lengthAdjust="spacing">Electricity used</text>
</svg>
</body></html>
